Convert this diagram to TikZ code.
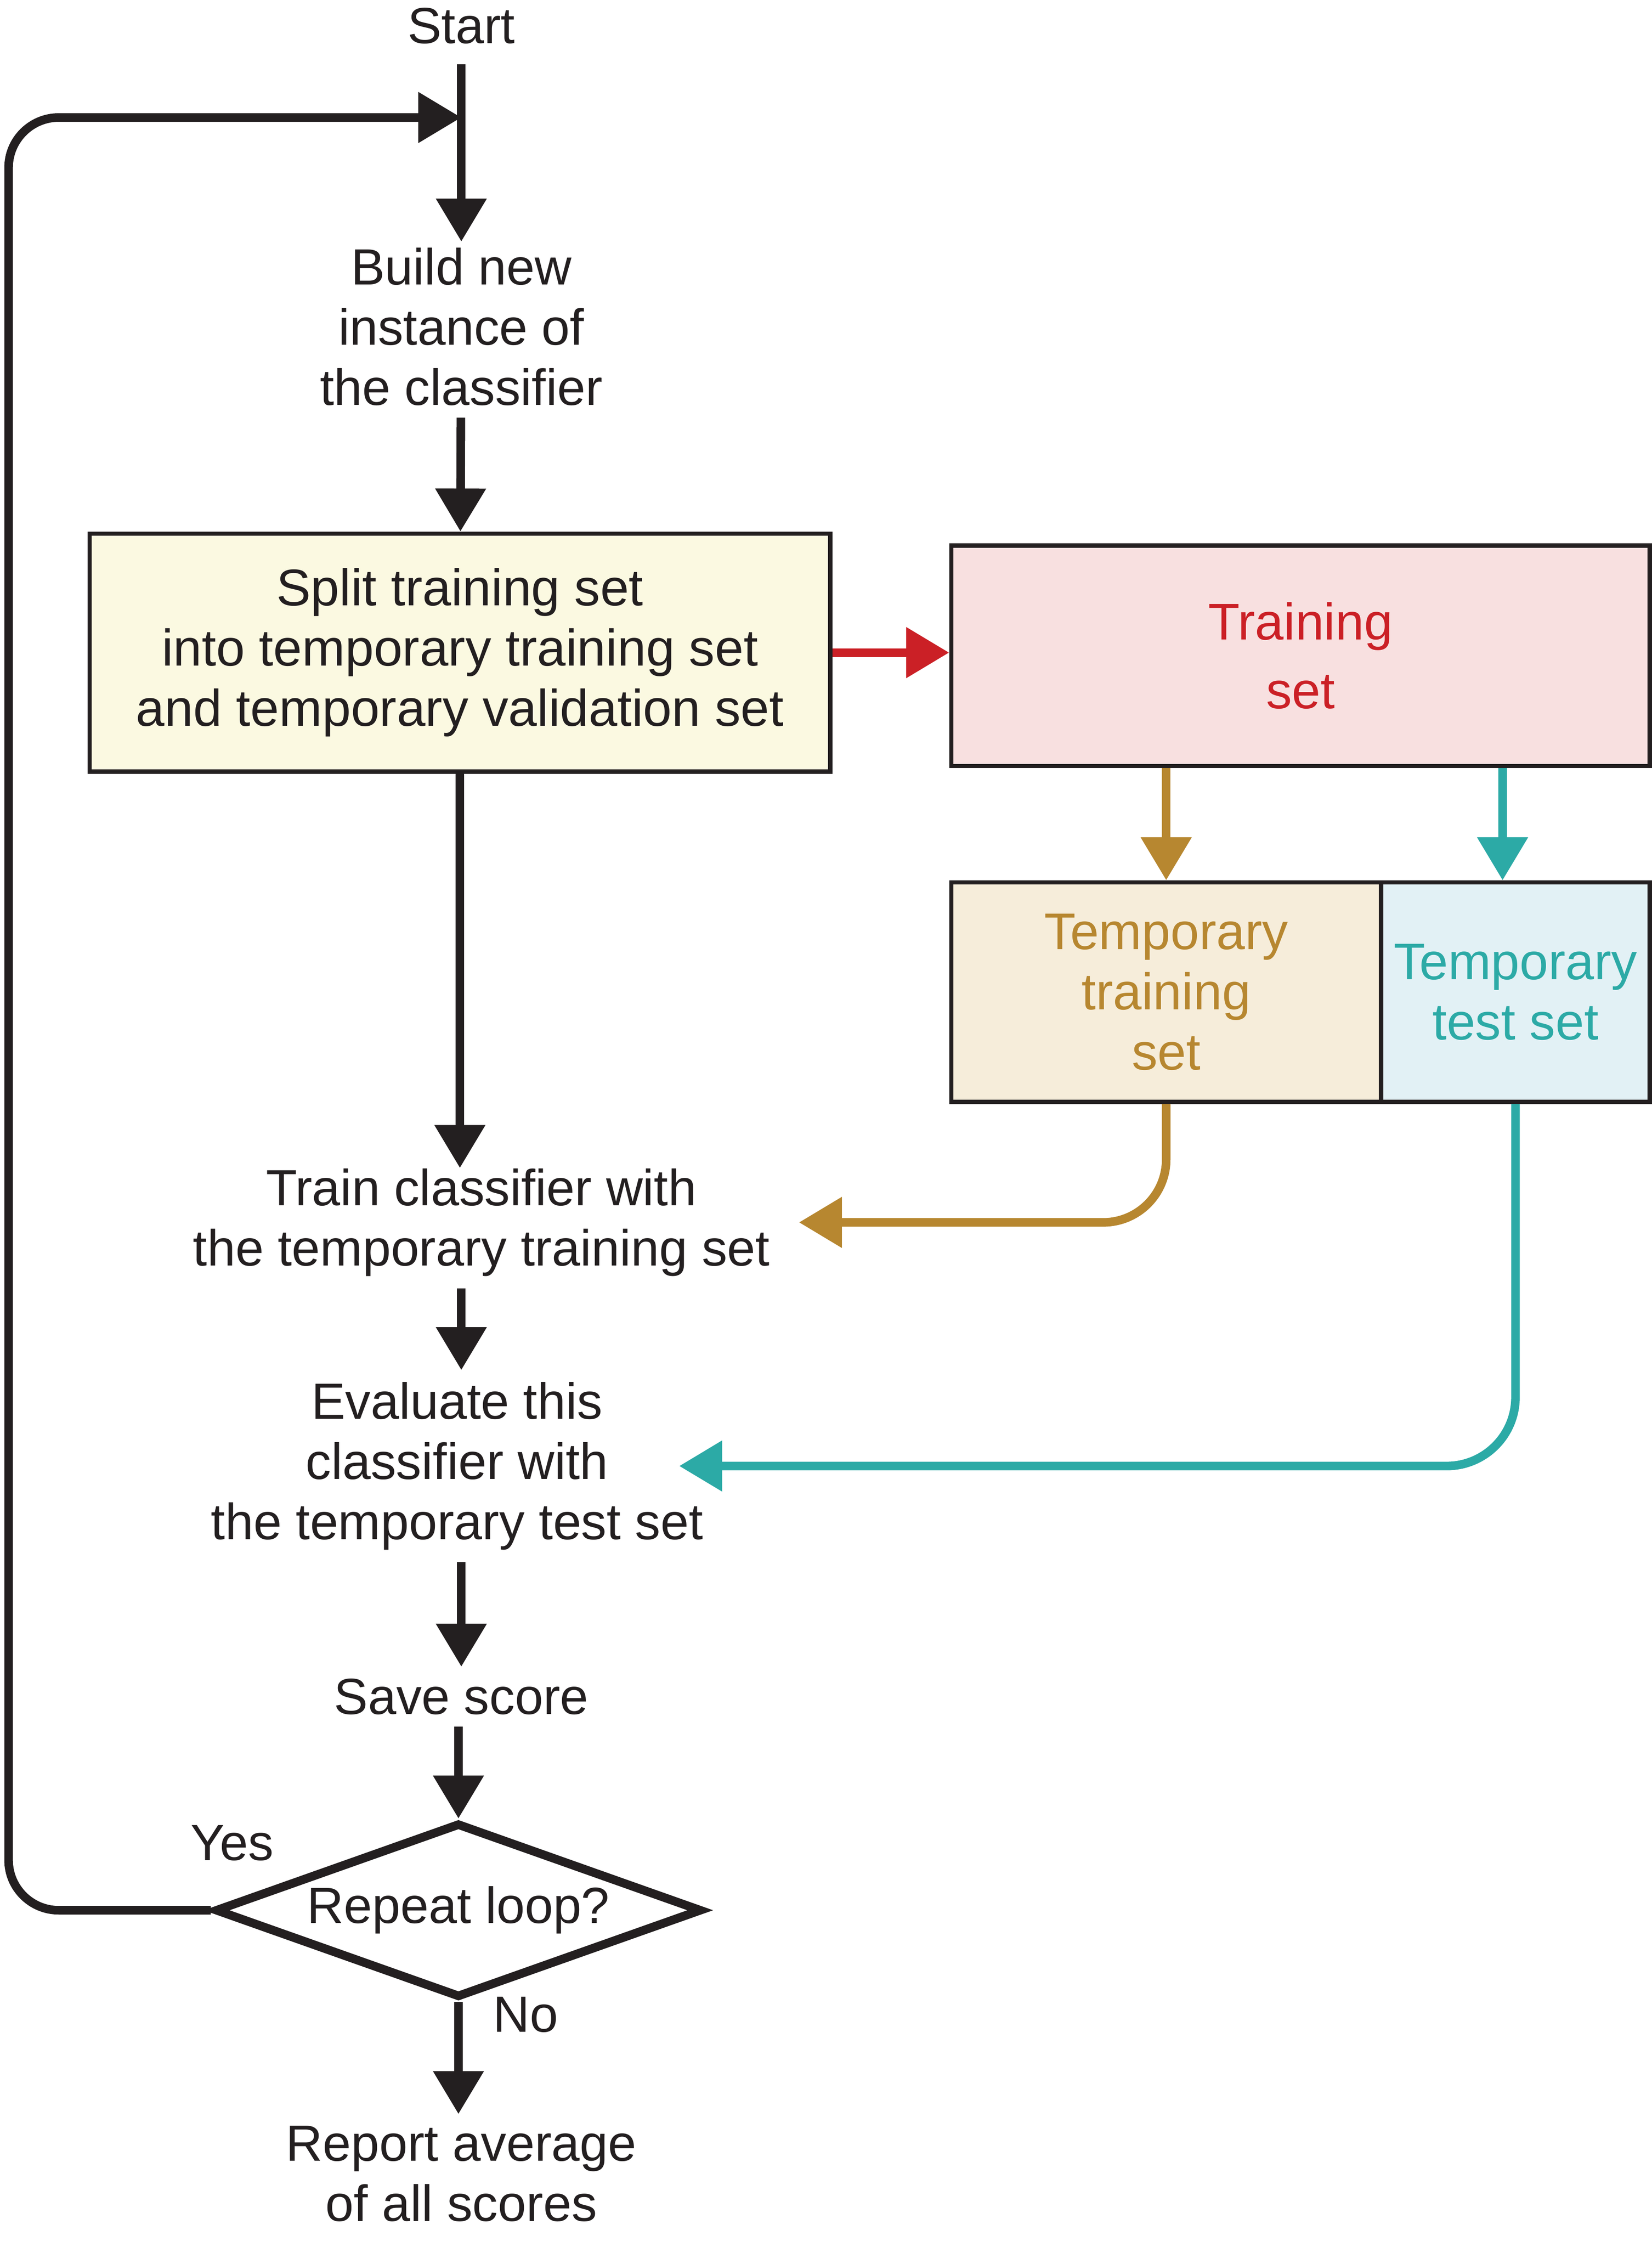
\documentclass[tikz,border=0pt]{standalone}
\usepackage{fontspec}
\setmainfont{Liberation Sans}
\usetikzlibrary{arrows.meta,shapes.geometric}
\definecolor{ink}{RGB}{35,31,32}
\definecolor{splitfill}{RGB}{251,249,225}
\definecolor{trainred}{RGB}{203,32,38}
\definecolor{trainfill}{RGB}{248,224,224}
\definecolor{tempgold}{RGB}{183,135,48}
\definecolor{tempgoldfill}{RGB}{246,237,218}
\definecolor{testteal}{RGB}{44,170,166}
\definecolor{testfill}{RGB}{226,241,245}
\tikzset{
    txt/.style={align=center, inner sep=4pt, text=ink, font=\fontsize{17.75pt}{21pt}\selectfont},
    setbox/.style={draw=ink, line width=1.5pt, align=center, inner sep=0pt, font=\fontsize{18pt}{21pt}\selectfont},
    flow/.style={line width=3pt, -{Triangle[length=15pt,width=17pt]}},
}

\begin{document}
\begin{tikzpicture}[x=0.5pt,y=-0.5pt]
        \def\boxh{76.6pt}
        \useasboundingbox (0,0) rectangle (1153,1568);

        % Main column
        \node[txt] (start) at (322,18) {Start};
        \node[txt] (build) at (322,228) {Build new\\instance of\\the classifier};
        \node[txt, setbox, fill=splitfill, minimum width=258.5pt, minimum height=83pt] (split) at (321,455.4) {Split training set\\into temporary training set\\and temporary validation set};
        \node[txt] (train) at (336,853) {Train classifier with\\the temporary training set};
        \node[txt] (eval) at (319,1023) {Evaluate this\\classifier with\\the temporary test set};
        \node[txt] (save) at (322,1184) {Save score};
        \node[txt, diamond, draw=ink, line width=3pt, aspect=2.8, inner sep=0pt, minimum width=170pt, minimum height=61pt] (repeat) at (320,1333) {Repeat loop?};
        \node[txt] (yes) at (162,1286) {Yes};
        \node[txt] (no) at (367,1406) {No};
        \node[txt] (report) at (322,1517) {Report average\\of all scores};

        % Sets
        \node[setbox, fill=trainfill, text=trainred, minimum width=243.75pt, minimum height=76.9pt, font=\fontsize{18pt}{24pt}\selectfont] (trainset) at (907.8,457.6) {Training\\set};
        \node[setbox, fill=tempgoldfill, text=tempgold, minimum width=150pt, minimum height=\boxh] (temptrain) at (814,692.4) {Temporary\\training\\set};
        \node[setbox, fill=testfill, text=testteal, minimum width=93.75pt, minimum height=\boxh] (temptest) at (1057.8,692.4) {Temporary\\test set};

        \coordinate (join) at (322,82);
        \coordinate (loopturn) at (6,82);
        \coordinate (testdrop) at ([xshift=-4.5pt]temptest.north);

        \draw[flow, ink, shorten <=3pt, shorten >=-2pt] (start) -- (build);
        \draw[flow, ink] (build) -- (split);
        \draw[flow, ink, shorten >=-4pt] (split) -- (split |- train.north);
        \draw[flow, ink] (train.south -| save) -- (eval.north -| save);
        \draw[flow, ink] (eval.south -| save) -- (save);
        \draw[flow, ink] (repeat.north |- save.south) -- (repeat.north);
        \draw[flow, ink] (repeat.south) -- (repeat.south |- report.north);
        \draw[flow, ink, rounded corners=17.5pt] (repeat.west) -| (loopturn) -- (join);

        % Coloured links
        \draw[flow, trainred] (split.east) -- (split.east -| trainset.west);
        \draw[flow, tempgold] (trainset.south -| temptrain) -- (temptrain.north);
        \draw[flow, testteal] (testdrop |- trainset.south) -- (testdrop);
        \draw[flow, tempgold, rounded corners=22pt] (temptrain.south) |- ([xshift=6pt]train.east);
        \draw[flow, testteal, rounded corners=24pt] (temptest.south) |- ([xshift=-12.5pt]eval.east);
\end{tikzpicture}
\end{document}
